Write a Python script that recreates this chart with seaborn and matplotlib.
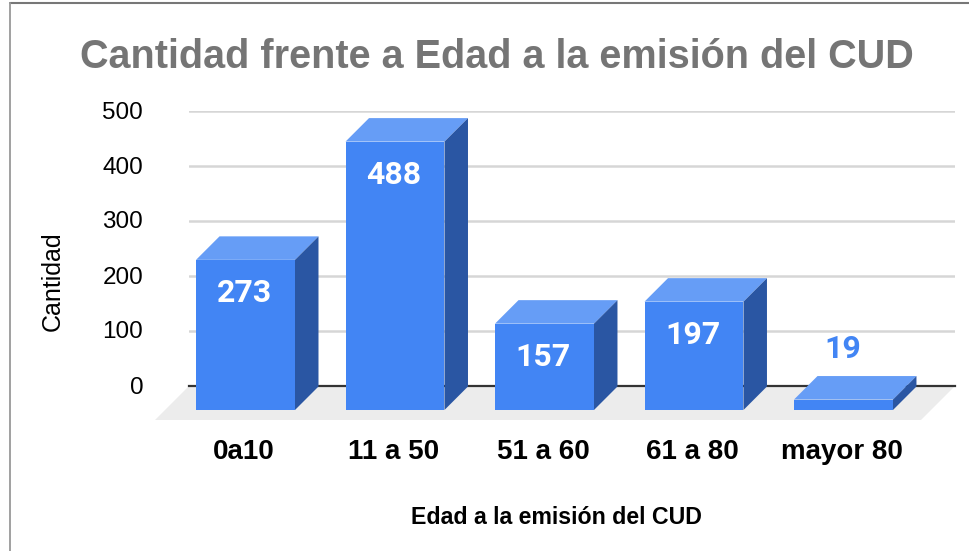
import matplotlib
matplotlib.use("Agg")
import matplotlib.pyplot as plt
import seaborn as sns
from matplotlib.lines import Line2D
from matplotlib.patches import Polygon
from matplotlib.transforms import Affine2D, IdentityTransform

categories = ["0a10", "11 a 50", "51 a 60", "61 a 80", "mayor 80"]
values = [273, 488, 157, 197, 19]
y_ticks = [0, 100, 200, 300, 400, 500]

W, H = 969, 551
FRONT = "#4285f4"
TOP = "#669df6"
SIDE = "#2a56a3"
FLOOR = "#ececec"
GRID = "#d6d6d6"
DEPTH = 23.5
DROP = 24
FLOOR_D = 34

sns.set_theme(style="white")
plt.rcParams["font.family"] = ["Liberation Sans", "DejaVu Sans"]

fig = plt.figure(figsize=(W / 100, H / 100), dpi=100)
ax = fig.add_axes([189 / W, 1 - 386 / H, (955 - 189) / W, 275 / H])

sns.barplot(x=categories, y=values, color=FRONT, saturation=1, width=0.662, ax=ax, zorder=5)
ax.set_xlim(-0.378, 4.746)
ax.set_ylim(0, 500)
ax.set_yticks(y_ticks)
ax.set_axisbelow(True)
ax.grid(axis="y", color=GRID, linewidth=1.8)
ax.grid(axis="x", visible=False)
sns.despine(ax=ax, left=True)
ax.spines["bottom"].set_color("#333333")
ax.spines["bottom"].set_linewidth(1.6)
ax.spines["bottom"].set_zorder(2)
ax.tick_params(axis="both", length=0)
ax.tick_params(axis="y", pad=33, labelsize=17.5, labelcolor="black")
ax.tick_params(axis="x", pad=38, labelsize=20, labelcolor="black")
for t in ax.get_xticklabels():
    t.set_fontweight("bold")
    t.set_transform(t.get_transform() + Affine2D().translate(-1.5, 0))
for t in ax.get_yticklabels():
    t.set_transform(t.get_transform() + Affine2D().translate(0, 1))
ax.set_xlabel("")
ax.set_ylabel("")

# Floor, derived from the axes' back edge
to_px = ax.transData.transform
(x0, y0), (x1, _) = to_px([(ax.get_xlim()[0], 0), (ax.get_xlim()[1], 0)])
ax.add_patch(Polygon(
    [(x0, y0), (x1, y0), (x1 - FLOOR_D, y0 - FLOOR_D), (x0 - FLOOR_D, y0 - FLOOR_D)],
    closed=True, facecolor=FLOOR, edgecolor="none",
    transform=IdentityTransform(), clip_on=False, zorder=0.5))

# Bars moved forward on the floor, with their top and side faces
shift = Affine2D().translate(0, -DROP)
for bar in ax.patches:
    if not hasattr(bar, "get_width") or bar.get_width() == 0:
        continue
    (l, b), (r, t) = to_px([(bar.get_x(), 0), (bar.get_x() + bar.get_width(), bar.get_height())])
    b -= DROP
    t -= DROP
    bar.set_transform(ax.transData + shift)
    bar.set_clip_on(False)
    bar.set_linewidth(0)
    ax.add_patch(Polygon(
        [(l, t), (r, t), (r + DEPTH, t + DEPTH), (l + DEPTH, t + DEPTH)],
        closed=True, facecolor=TOP, edgecolor="none",
        transform=IdentityTransform(), clip_on=False, zorder=4))
    ax.add_patch(Polygon(
        [(r, b), (r + DEPTH, b + DEPTH), (r + DEPTH, t + DEPTH), (r, t)],
        closed=True, facecolor=SIDE, edgecolor="none",
        transform=IdentityTransform(), clip_on=False, zorder=4))

# Value labels
for i, v in enumerate(values):
    inside = v > 100
    ax.annotate(
        str(v), xy=(i, v), xycoords="data",
        xytext=(-1 * 0.72, (-57.5 if inside else 26.5) * 0.72), textcoords="offset points",
        ha="center", va="center", fontsize=23, fontweight="bold", family="Roboto",
        color="white" if inside else FRONT, zorder=8, annotation_clip=False)

# Titles
fig.text(497 / W, 1 - 57.5 / H, "Cantidad frente a Edad a la emisión del CUD",
         ha="center", va="center", fontsize=28.5, fontweight="bold", color="#757575")
fig.text(53 / W, 1 - 281 / H, "Cantidad", rotation=90,
         ha="center", va="center", fontsize=18, color="black")
fig.text(556 / W, 1 - 517.5 / H, "Edad a la emisión del CUD",
         ha="center", va="center", fontsize=16.7, fontweight="bold", color="black")

# Frame of the screenshot
fig.add_artist(Line2D([10 / W, 1], [1 - 2.5 / H, 1 - 2.5 / H], color="#777777", linewidth=1.5))
fig.add_artist(Line2D([10 / W, 10 / W], [0, 1 - 2.5 / H], color="#999999", linewidth=1.3))

fig.savefig("out.png", dpi=100)
